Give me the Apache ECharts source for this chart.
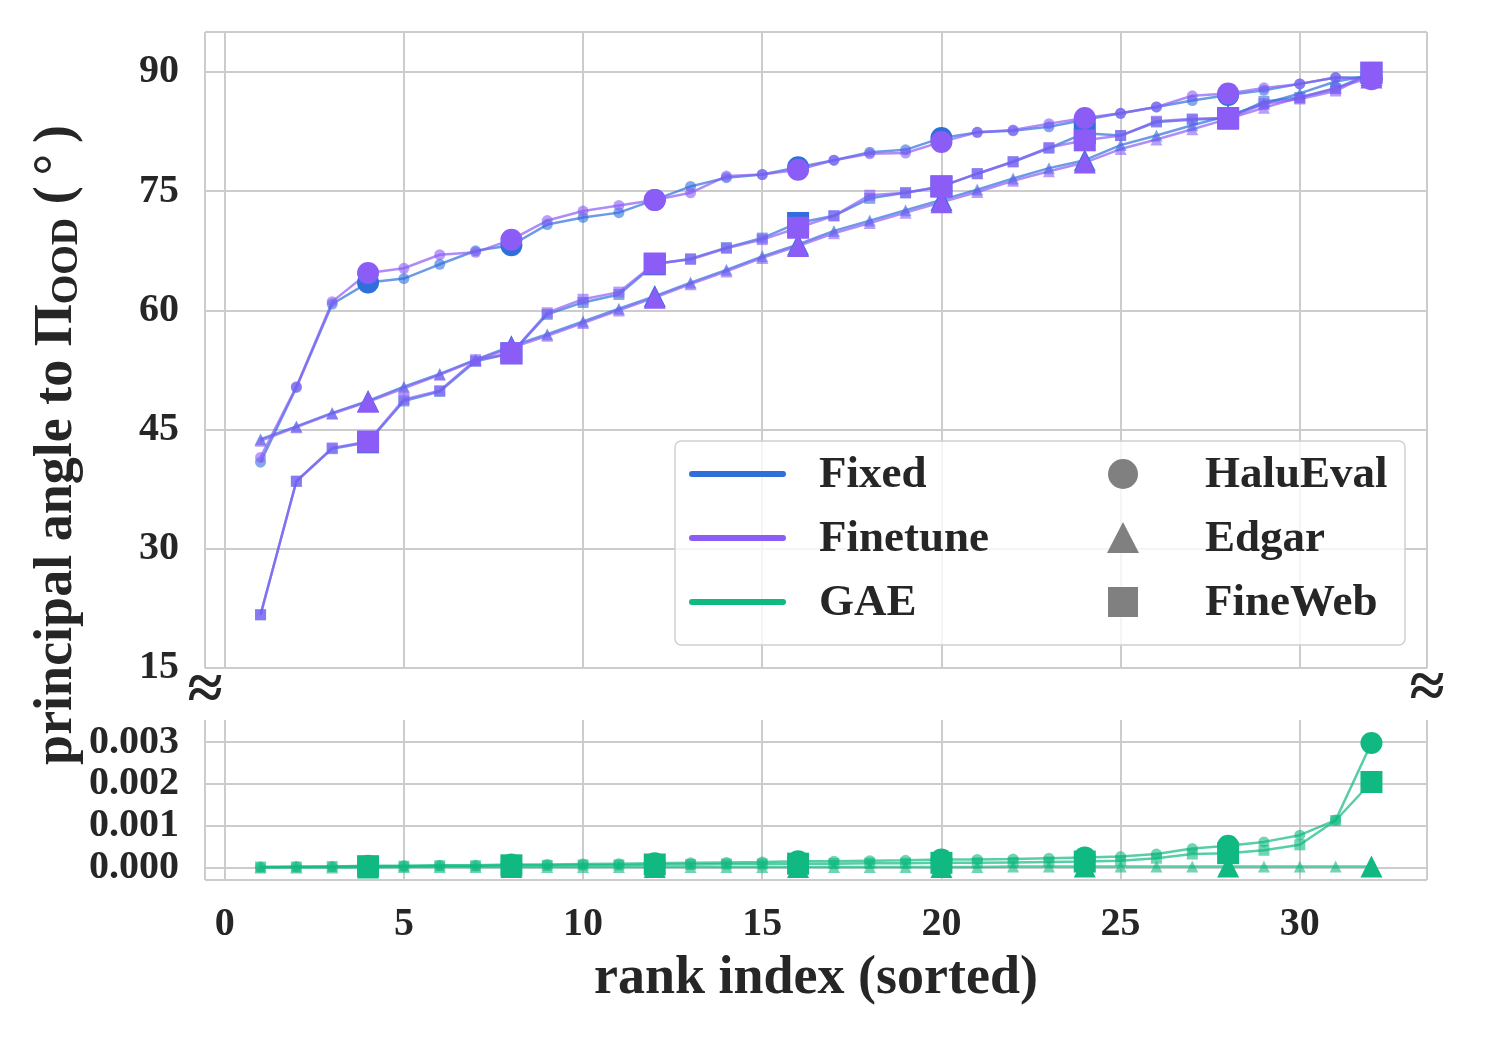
<!DOCTYPE html>
<html>
<head>
<meta charset="utf-8">
<script src="https://cdn.jsdelivr.net/npm/echarts@6/dist/echarts.min.js"></script>
<style>
  html, body { margin: 0; padding: 0; background: #fff; }
  #chart { width: 1490px; height: 1037px; }
</style>
</head>
<body>
<div id="chart"></div>
<script>
// rank index (x) shared by every curve
const ranks = [1, 2, 3, 4, 5, 6, 7, 8, 9, 10, 11, 12, 13, 14, 15, 16,
  17, 18, 19, 20, 21, 22, 23, 24, 25, 26, 27, 28, 29, 30, 31, 32]

// principal angles (deg), upper panel
const fixedHalu = [40.9, 50.3, 60.8, 63.5, 64.0, 65.8, 67.5, 68.2, 70.8, 71.7, 72.3, 73.9, 75.6, 76.7, 77.1, 78.0,
  78.9, 79.9, 80.2, 81.7, 82.4, 82.6, 83.1, 84.0, 84.8, 85.6, 86.4, 87.1, 87.7, 88.5, 89.3, 89.3]
const finetuneHalu = [41.5, 50.4, 61.1, 64.7, 65.3, 67.0, 67.3, 68.9, 71.3, 72.5, 73.2, 73.9, 74.8, 76.9, 77.1, 77.7,
  78.9, 79.7, 79.8, 81.2, 82.4, 82.7, 83.5, 84.2, 84.8, 85.6, 87.0, 87.3, 88.0, 88.5, 89.3, 89.1]
const fixedEdgar = [43.8, 45.4, 47.1, 48.6, 50.4, 52.0, 53.8, 55.5, 57.0, 58.6, 60.2, 61.8, 63.5, 65.1, 66.8, 68.3,
  70.0, 71.3, 72.6, 73.9, 75.2, 76.6, 77.9, 78.9, 80.8, 82.0, 83.3, 84.5, 86.0, 87.3, 88.8, 89.6]
const finetuneEdgar = [43.6, 45.3, 47.0, 48.5, 50.2, 51.9, 53.7, 55.3, 56.8, 58.4, 60.0, 61.6, 63.3, 64.9, 66.6, 68.1,
  69.7, 71.0, 72.3, 73.6, 74.9, 76.3, 77.5, 78.6, 80.3, 81.5, 82.8, 84.1, 85.5, 86.8, 88.0, 89.3]
const fixedFineweb = [21.7, 38.5, 42.6, 43.4, 48.6, 49.8, 53.6, 54.6, 59.5, 61.0, 62.0, 65.8, 66.5, 67.9, 69.1, 71.0,
  71.9, 74.1, 74.8, 75.6, 77.2, 78.7, 80.4, 82.3, 82.0, 83.7, 84.0, 84.2, 86.3, 86.8, 87.9, 89.9]
const finetuneFineweb = [21.7, 38.5, 42.7, 43.5, 48.8, 49.9, 53.8, 54.6, 59.7, 61.4, 62.3, 65.9, 66.4, 67.8, 68.9, 70.4,
  71.9, 74.5, 74.8, 75.6, 77.2, 78.7, 80.5, 81.4, 82.0, 83.8, 84.1, 84.2, 86.0, 86.6, 87.6, 89.9]

// GAE angles, lower panel
const gaeHalu = [0.00002, 0.00003, 0.00003, 0.00005, 0.00005, 0.00006, 0.00006, 0.00008, 0.00008, 0.00009, 0.0001, 0.00011,
  0.00012, 0.00013, 0.00014, 0.00016, 0.00016, 0.00017, 0.00018, 0.0002, 0.0002, 0.00021, 0.00023, 0.00025,
  0.00027, 0.00033, 0.00046, 0.00053, 0.00062, 0.00078, 0.00114, 0.00298]
const gaeEdgar = [0.00001, 0.00001, 0.00001, 0.00001, 0.00002, 0.00002, 0.00002, 0.00002, 0.00002, 0.00002, 0.00002, 0.00002,
  0.00002, 0.00002, 0.00002, 0.00002, 0.00002, 0.00002, 0.00002, 0.00002, 0.00002, 0.00003, 0.00003, 0.00003,
  0.00003, 0.00003, 0.00003, 0.00003, 0.00003, 0.00003, 0.00003, 0.00003]
const gaeFineweb = [0.00002, 0.00002, 0.00003, 0.00004, 0.00004, 0.00005, 0.00005, 0.00006, 0.00006, 0.00007, 0.00007, 0.00008,
  0.00008, 0.00009, 0.00009, 0.0001, 0.0001, 0.00011, 0.00011, 0.00012, 0.00012, 0.00013, 0.00014, 0.00015,
  0.00017, 0.00023, 0.00033, 0.00035, 0.00042, 0.00055, 0.00113, 0.00205]

const methodNames = ['Fixed', 'Finetune', 'GAE']
const datasetNames = ['HaluEval', 'Edgar', 'FineWeb']

const FONT = '"Liberation Serif", "Times New Roman", serif'
const INK = '#262626'
const GRIDC = '#cccccc'
const COLORS = { Fixed: '#2f6fdc', Finetune: '#8b5cf6', GAE: '#10b981' }
const SYMBOLS = { HaluEval: 'circle', Edgar: 'triangle', FineWeb: 'rect' }

// every 4th rank gets a big opaque marker
function toPoints(values, dataset) {
  const small = dataset === 'Edgar' ? 12 : 11
  return values.map((v, i) => {
    const big = ranks[i] % 4 === 0
    return {
      value: [ranks[i], v],
      symbolSize: big ? 22 : small,
      itemStyle: { opacity: big ? 1 : 0.6 },
    }
  })
}

function curve(method, dataset, values, panel) {
  return {
    name: method + ' ' + dataset,
    type: 'line',
    xAxisIndex: panel,
    yAxisIndex: panel,
    data: toPoints(values, dataset),
    symbol: SYMBOLS[dataset],
    showAllSymbol: true,
    lineStyle: { width: 2.5, color: COLORS[method], opacity: 0.7 },
    itemStyle: { color: COLORS[method] },
    emphasis: { disabled: true },
    silent: true,
  }
}

const series = [
  curve('Fixed', 'HaluEval', fixedHalu, 0),
  curve('Fixed', 'Edgar', fixedEdgar, 0),
  curve('Fixed', 'FineWeb', fixedFineweb, 0),
  curve('Finetune', 'HaluEval', finetuneHalu, 0),
  curve('Finetune', 'Edgar', finetuneEdgar, 0),
  curve('Finetune', 'FineWeb', finetuneFineweb, 0),
  curve('GAE', 'Edgar', gaeEdgar, 1),
  curve('GAE', 'FineWeb', gaeFineweb, 1),
  curve('GAE', 'HaluEval', gaeHalu, 1),
]

const tickFont = { fontFamily: FONT, fontWeight: 'bold', fontSize: 40, color: INK }
const splitStyle = { lineStyle: { color: GRIDC, width: 2 } }

const xBase = {
  type: 'value',
  min: -0.55,
  max: 33.55,
  splitNumber: 7,
  axisLine: { show: false },
  axisTick: { show: false },
  splitLine: { show: true, ...splitStyle },
}

// legend drawn by hand: colours for methods, grey shapes for datasets
const LX = 675, LY = 441
const rowY = [475, 539, 603]
const legend = [
  { type: 'rect', shape: { x: LX, y: LY, width: 730, height: 204, r: 6 },
    style: { fill: 'rgba(255,255,255,0.8)', stroke: '#d0d0d0', lineWidth: 1.5 }, z: 10 },
]
methodNames.forEach((m, i) => {
  legend.push({ type: 'line', shape: { x1: 692, y1: rowY[i] - 1, x2: 783, y2: rowY[i] - 1 },
    style: { stroke: COLORS[m], lineWidth: 6, lineCap: 'round' }, z: 11 })
  legend.push({ type: 'text', x: 819, y: rowY[i],
    style: { text: m, fontFamily: FONT, fontWeight: 'bold', fontSize: 45, fill: INK, verticalAlign: 'middle' }, z: 11 })
})
legend.push({ type: 'circle', shape: { cx: 1123, cy: rowY[0] - 1, r: 15 }, style: { fill: '#808080' }, z: 11 })
legend.push({ type: 'polygon', shape: { points: [[1123, rowY[1] - 17], [1139, rowY[1] + 14], [1107, rowY[1] + 14]] },
  style: { fill: '#808080' }, z: 11 })
legend.push({ type: 'rect', shape: { x: 1108, y: rowY[2] - 16, width: 30, height: 30 }, style: { fill: '#808080' }, z: 11 })
datasetNames.forEach((d, i) => {
  legend.push({ type: 'text', x: 1205, y: rowY[i],
    style: { text: d, fontFamily: FONT, fontWeight: 'bold', fontSize: 45, fill: INK, verticalAlign: 'middle' }, z: 11 })
})

const option = {
  animation: false,
  backgroundColor: '#ffffff',
  grid: [
    { left: 205, right: 63, top: 32, height: 636, outerBoundsMode: 'none' },
    { left: 205, right: 63, top: 720, height: 160, outerBoundsMode: 'none' },
  ],
  xAxis: [
    { ...xBase, gridIndex: 0, axisLabel: { show: false } },
    {
      ...xBase,
      gridIndex: 1,
      axisLabel: { ...tickFont, margin: 25, showMinLabel: false, showMaxLabel: false },
      name: 'rank index (sorted)',
      nameLocation: 'middle',
      nameGap: 72,
      nameTextStyle: { fontFamily: FONT, fontWeight: 'bold', fontSize: 54, color: INK },
    },
  ],
  yAxis: [
    {
      type: 'value', gridIndex: 0, min: 15, max: 95.03, interval: 15,
      axisLine: { show: false }, axisTick: { show: false },
      axisLabel: { ...tickFont, margin: 26, showMaxLabel: false, padding: [6, 0, 0, 0] },
      splitLine: { show: true, ...splitStyle },
    },
    {
      type: 'value', gridIndex: 1, min: -0.00029, max: 0.00353, splitNumber: 4,
      axisLine: { show: false }, axisTick: { show: false },
      axisLabel: { ...tickFont, margin: 26, showMinLabel: false, showMaxLabel: false,
        padding: [5, 0, 0, 0], formatter: v => v.toFixed(3) },
      splitLine: { show: true, showMaxLine: false, ...splitStyle },
    },
  ],
  graphic: [
    {
      type: 'text', x: 57, y: 445, rotation: Math.PI / 2,
      style: {
        text: 'principal angle to Π{sub|OOD} (\u2009°\u2009)',
        fontFamily: FONT, fontWeight: 'bold', fontSize: 54, fill: INK,
        align: 'center', verticalAlign: 'middle',
        rich: {
          sub: { fontFamily: FONT, fontWeight: 'bold', fontSize: 38, fill: INK, padding: [20, 0, 0, 0] },
        },
      },
    },
    { type: 'text', x: 205, y: 692,
      style: { text: '≈', fontFamily: FONT, fontWeight: 'bold', fontSize: 64, fill: INK, align: 'center', verticalAlign: 'middle' } },
    { type: 'text', x: 1427, y: 690,
      style: { text: '≈', fontFamily: FONT, fontWeight: 'bold', fontSize: 64, fill: INK, align: 'center', verticalAlign: 'middle' } },
    ...legend,
  ],
  series,
}

const chart = echarts.init(document.getElementById('chart'), null, { renderer: 'canvas' })
chart.setOption(option)
</script>
</body>
</html>
